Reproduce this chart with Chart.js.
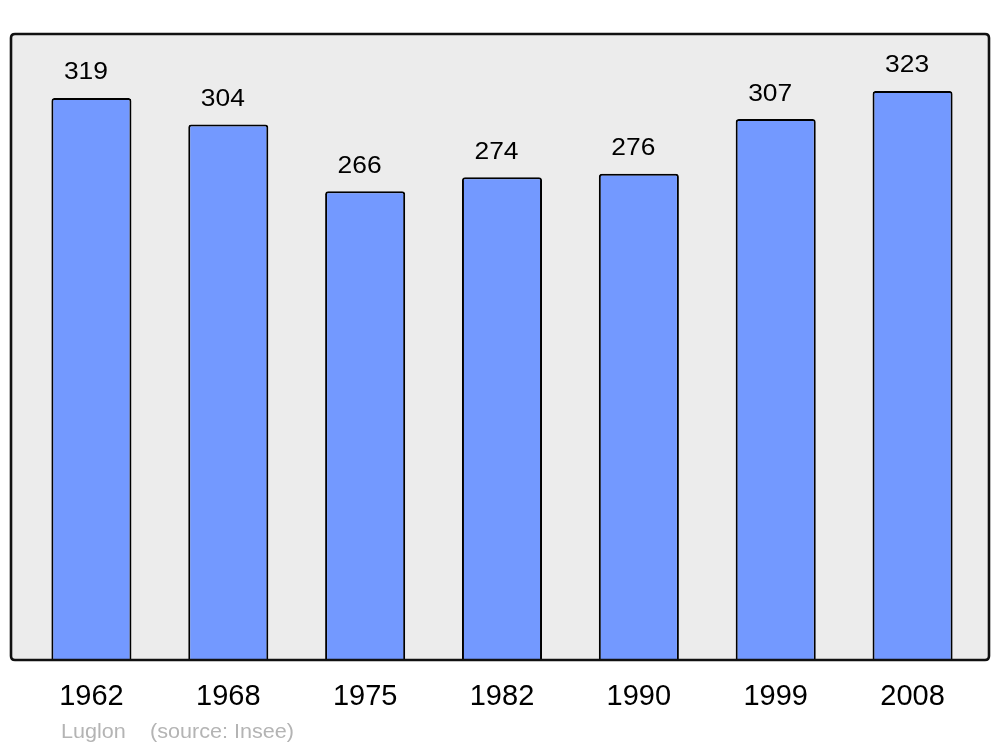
<!DOCTYPE html>
<html>
<head>
<meta charset="utf-8">
<script src="https://cdn.jsdelivr.net/npm/chart.js@4.4.1/dist/chart.umd.min.js"></script>
<style>
  html, body { margin: 0; padding: 0; background: #ffffff; }
  #wrap { width: 1000px; height: 747px; position: relative; }
</style>
</head>
<body>
<div id="wrap"><canvas id="c" width="1000" height="747"></canvas></div>
<script>
const years = ['1962', '1968', '1975', '1982', '1990', '1999', '2008'];
const population = [319, 304, 266, 274, 276, 307, 323];
const placeName = 'Luglon';
const sourceNote = '(source: Insee)';

const FONT = '"Liberation Sans", Arial, sans-serif';
const STRETCH = 1.1;

function stretchedText(ctx, text, x, y, size, color, align, stretch) {
  ctx.save();
  ctx.font = size + 'px ' + FONT;
  ctx.fillStyle = color;
  ctx.textBaseline = 'alphabetic';
  ctx.textAlign = align;
  ctx.translate(x, y);
  ctx.scale(stretch || STRETCH, 1);
  ctx.fillText(text, 0, 0);
  ctx.restore();
}

function roundRectPath(ctx, x, y, w, h, r) {
  ctx.beginPath();
  ctx.moveTo(x + r, y);
  ctx.lineTo(x + w - r, y);
  ctx.quadraticCurveTo(x + w, y, x + w, y + r);
  ctx.lineTo(x + w, y + h - r);
  ctx.quadraticCurveTo(x + w, y + h, x + w - r, y + h);
  ctx.lineTo(x + r, y + h);
  ctx.quadraticCurveTo(x, y + h, x, y + h - r);
  ctx.lineTo(x, y + r);
  ctx.quadraticCurveTo(x, y, x + r, y);
  ctx.closePath();
}

function frameBox(chart) {
  const a = chart.chartArea;
  return { x: a.left - 12, y: a.top, w: (a.right + 8) - (a.left - 12), h: a.bottom - a.top };
}

const framePlugin = {
  id: 'frame',
  beforeDatasetsDraw(chart) {
    const ctx = chart.ctx, b = frameBox(chart);
    ctx.save();
    roundRectPath(ctx, b.x, b.y, b.w, b.h, 4);
    ctx.fillStyle = '#ececec';
    ctx.fill();
    ctx.restore();
  },
  afterDatasetsDraw(chart) {
    const ctx = chart.ctx, b = frameBox(chart);
    ctx.save();
    roundRectPath(ctx, b.x, b.y, b.w, b.h, 4);
    ctx.lineWidth = 2.6;
    ctx.strokeStyle = '#111111';
    ctx.stroke();
    ctx.restore();
    // value labels
    const meta = chart.getDatasetMeta(0);
    meta.data.forEach((bar, i) => {
      stretchedText(ctx, String(chart.data.datasets[0].data[i]), bar.x - 5.5, bar.y - 18.5, 24, '#000000', 'center');
    });
  },
  afterDraw(chart) {
    const ctx = chart.ctx;
    stretchedText(ctx, placeName, 61, 738, 20, '#b4b4b4', 'left', 1.08);
    stretchedText(ctx, sourceNote, 150, 738, 20, '#b4b4b4', 'left', 1.08);
  }
};

new Chart(document.getElementById('c'), {
  type: 'bar',
  data: {
    labels: years,
    datasets: [{
      data: population,
      backgroundColor: '#7399ff',
      borderColor: '#000000',
      borderWidth: 2,
      borderSkipped: 'bottom',
      borderRadius: { topLeft: 3, topRight: 3, bottomLeft: 0, bottomRight: 0 },
      categoryPercentage: 1.0,
      barPercentage: 0.585
    }]
  },
  options: {
    responsive: false,
    animation: false,
    devicePixelRatio: 1,
    layout: { padding: { left: 23, right: 19, top: 34, bottom: 0 } },
    plugins: {
      legend: { display: false },
      tooltip: { enabled: false },
      title: { display: false }
    },
    scales: {
      x: {
        grid: { display: false, drawTicks: false },
        border: { display: false },
        ticks: {
          color: '#000000',
          font: { family: FONT, size: 29 },
          padding: 19.5,
          maxRotation: 0
        },
        afterFit(scale) { scale.height = 87; }
      },
      y: {
        display: false,
        min: 0,
        max: 355.3
      }
    }
  },
  plugins: [framePlugin]
});
</script>
</body>
</html>
